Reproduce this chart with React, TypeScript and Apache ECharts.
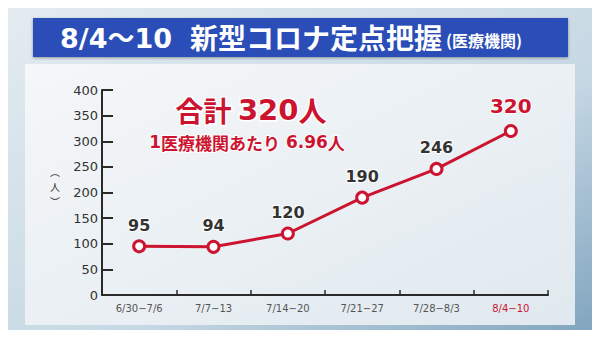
import React, { useEffect, useRef } from "react";
import * as echarts from "echarts";

const categories = ["6/30−7/6", "7/7−13", "7/14−20", "7/21−27", "7/28−8/3", "8/4−10"];
const values = [95, 94, 120, 190, 246, 320];
const yTicks = [0, 50, 100, 150, 200, 250, 300, 350, 400];
const titleDate = "8/4～10";
const titleMain = "新型コロナ定点把握";
const titleSub = "(医療機関)";
const totalLabel = "合計 ";
const totalNum = "320";
const perLabel = "1医療機関あたり";
const perNum = " 6.96";
const unit = "人";
const yName = "︵\n人\n︶";

const CJK = "'Noto Sans CJK JP', sans-serif";
const LAT = "'DejaVu Sans', 'Noto Sans CJK JP', sans-serif";
const RED = "#cc1430";

export default function App() {
  const ref = useRef<HTMLDivElement>(null);
  useEffect(() => {
    const chart = echarts.init(ref.current!, null, { renderer: "svg" });
    const last = values.length - 1;
    chart.setOption({
      animation: false,
      backgroundColor: new echarts.graphic.LinearGradient(0, 0, 1, 1, [
        { offset: 0, color: "#e4ecf1" },
        { offset: 0.6, color: "#c6d8e4" },
        { offset: 1, color: "#7ea3bd" },
      ]),
      graphic: [
        {
          type: "rect",
          shape: { x: 25, y: 64, width: 550, height: 261 },
          style: {
            fill: new echarts.graphic.LinearGradient(0, 0, 1, 1, [
              { offset: 0, color: "#f5f7f9" },
              { offset: 1, color: "#e0e9ef" },
            ]),
          },
          z: -10,
        },
        {
          type: "rect",
          shape: { x: 33, y: 18, width: 535, height: 39 },
          style: { fill: "#2b4eb8", shadowBlur: 3, shadowColor: "rgba(0,0,0,0.35)", shadowOffsetY: 1 },
          z: -5,
        },
        {
          type: "text",
          x: 60,
          y: 38,
          style: {
            text: titleDate,
            fill: "#ffffff",
            font: `bold 27px ${LAT}`,
            verticalAlign: "middle",
            align: "left",
          },
        },
        {
          type: "text",
          x: 190,
          y: 37,
          style: {
            text: titleMain,
            fill: "#ffffff",
            font: `bold 28px ${CJK}`,
            verticalAlign: "middle",
            align: "left",
          },
        },
        {
          type: "text",
          x: 446,
          y: 40,
          style: {
            text: titleSub,
            fill: "#ffffff",
            font: `bold 16px ${CJK}`,
            verticalAlign: "middle",
            align: "left",
          },
        },
        {
          type: "text",
          x: 251,
          y: 110,
          style: {
            text: `{a|${totalLabel}}{b|${totalNum}}{a|${unit}}`,
            align: "center",
            verticalAlign: "middle",
            rich: {
              a: { fill: RED, font: `bold 28px ${CJK}`, stroke: "#ffffff", lineWidth: 3 },
              b: { fill: RED, font: `bold 29px ${LAT}`, stroke: "#ffffff", lineWidth: 3 },
            },
          },
        },
        {
          type: "text",
          x: 247,
          y: 142,
          style: {
            text: `{b|1}{a|${perLabel.slice(1)}}{b|${perNum}}{a|${unit}}`,
            align: "center",
            verticalAlign: "middle",
            rich: {
              a: { fill: RED, font: `bold 17px ${CJK}`, stroke: "#ffffff", lineWidth: 2 },
              b: { fill: RED, font: `bold 17px ${LAT}`, stroke: "#ffffff", lineWidth: 2 },
            },
          },
        },
        {
          type: "text",
          x: 55,
          y: 186,
          style: {
            text: yName,
            fill: "#333333",
            font: `10px ${CJK}`,
            lineHeight: 15,
            align: "center",
            verticalAlign: "middle",
          },
        },
      ],
      grid: { left: 102, right: 52, top: 90, bottom: 43 },
      xAxis: {
        type: "category",
        data: categories,
        boundaryGap: true,
        axisLine: { lineStyle: { color: "#2a2a2a", width: 2 } },
        axisTick: { show: true, inside: true, length: 5, lineStyle: { color: "#2a2a2a", width: 1.5 } },
        axisLabel: {
          margin: 8,
          fontSize: 10,
          fontFamily: LAT,
          color: (v: string, i: number) => (i === last ? RED : "#555555"),
        },
      },
      yAxis: {
        type: "value",
        min: yTicks[0],
        max: yTicks[yTicks.length - 1],
        interval: 50,
        splitLine: { show: false },
        axisLine: { show: true, lineStyle: { color: "#2a2a2a", width: 2 } },
        axisTick: { show: true, inside: true, length: 11, lineStyle: { color: "#2a2a2a", width: 2 } },
        axisLabel: { margin: 4, fontSize: 13, fontFamily: LAT, color: "#333333" },
      },
      series: [
        {
          type: "line",
          data: values.map((v, i) =>
            i === last
              ? {
                  value: v,
                  label: { color: RED, fontSize: 20, distance: 8 },
                }
              : v
          ),
          symbol: "circle",
          symbolSize: 11,
          lineStyle: { color: RED, width: 3 },
          itemStyle: { color: "#ffffff", borderColor: RED, borderWidth: 3 },
          label: {
            show: true,
            position: "top",
            distance: 6,
            fontSize: 16,
            fontWeight: "bold",
            fontFamily: LAT,
            color: "#333333",
            textBorderColor: "#ffffff",
            textBorderWidth: 2,
          },
        },
      ],
    });
    return () => chart.dispose();
  }, []);
  return <div ref={ref} style={{ width: 600, height: 338, margin: -8 }} />;
}
